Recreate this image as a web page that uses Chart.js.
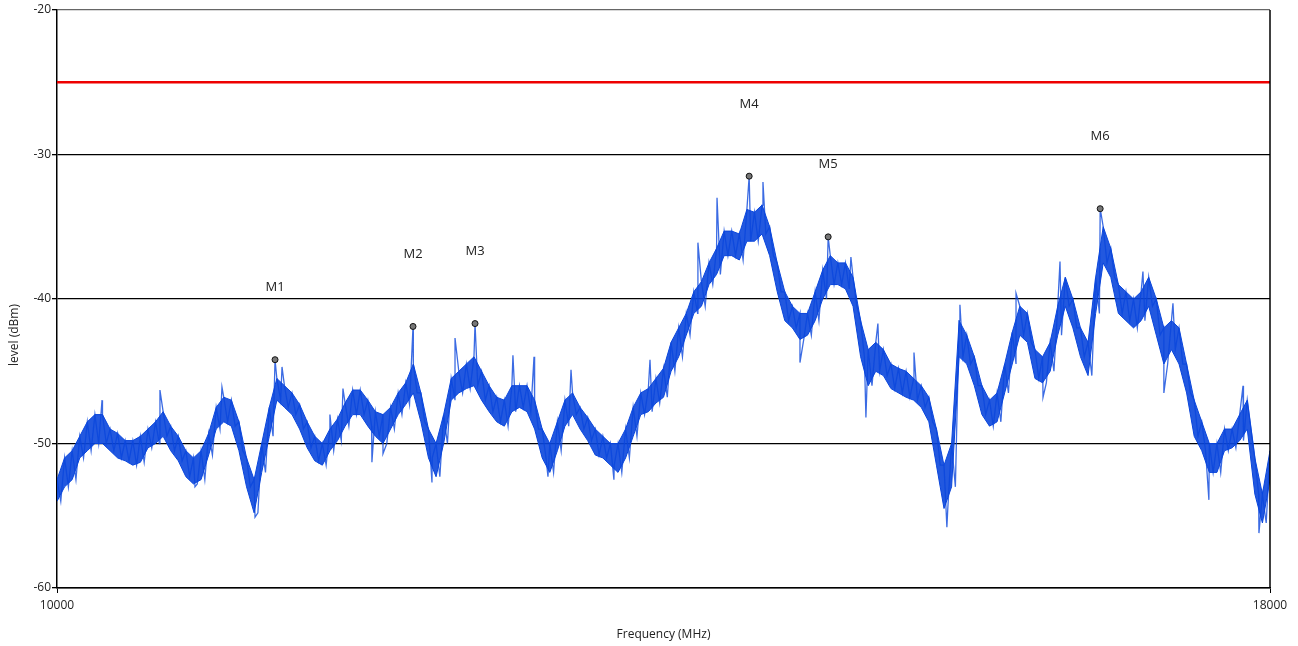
<!DOCTYPE html>
<html>
<head>
<meta charset="utf-8">
<script src="https://cdn.jsdelivr.net/npm/chart.js@4.4.1/dist/chart.umd.min.js"></script>
<style>
  html, body { margin:0; padding:0; background:#fff; }
  #wrap { width:1298px; height:646px; position:relative; }
</style>
</head>
<body>
<div id="wrap"><canvas id="c" width="1298" height="646"></canvas></div>
<script>
// sweep: 10000..18000 MHz, one reading every 50 MHz
const FREQ_START = 10000;
const FREQ_STEP  = 50;

// top and bottom of the noisy trace at each sweep point (dBm)
const traceHi = [
  -52.5,-51,-50.5,-49.5,-48.5,-48,-48,-49,-49.3,-49.8,
  -49.8,-49.5,-49,-48.5,-47.8,-48.8,-49.5,-50.5,-51,-50.5,
  -49.3,-47.5,-46.8,-47,-48.5,-51,-52.5,-50,-47.5,-45.5,
  -46,-46.5,-47.3,-48.5,-49.5,-50,-49,-48.3,-47.2,-46.3,
  -46.3,-47,-47.8,-48,-47.5,-46.5,-45.8,-44.5,-46.5,-49,
  -50,-48,-45.5,-45,-44.5,-44,-45,-46,-46.8,-47,
  -46,-46,-46,-47,-49,-50,-48.5,-47,-46.5,-47.5,
  -48.2,-49,-49.5,-50,-50,-49,-47.5,-46.5,-46.2,-45.5,
  -44.8,-43,-42,-41,-39.5,-38.8,-37.5,-36.5,-35.3,-35.3,
  -35.5,-33.8,-34,-33.5,-35,-37.5,-39.5,-40.5,-41,-41,
  -39.5,-38,-37,-37.5,-37.5,-38.5,-41.5,-43.5,-43,-43.5,
  -44.5,-44.8,-45,-45.5,-46,-46.8,-49,-51.5,-50,-41.5,
  -42.5,-44,-46,-47,-46.5,-44.5,-42.3,-40.5,-41,-43.5,
  -44,-43,-40.5,-38.5,-40,-42,-43,-38.5,-35,-36.5,
  -39,-39.5,-40,-39.5,-38.5,-40,-42,-41.5,-42,-44.5,
  -47,-48.5,-50,-50,-49,-49,-48,-47,-51,-53.5,
  -50.5
];
const traceLo = [
  -54,-53,-52.5,-51,-50.5,-50,-50,-50.5,-51,-51.2,
  -51.5,-51.3,-50.3,-50,-49.5,-50.5,-51.2,-52.3,-52.8,-52.5,
  -50.8,-49,-48.5,-48.8,-50.5,-53,-54.8,-52,-49.5,-47,
  -47.5,-48,-49,-50.3,-51.2,-51.5,-50.5,-49.8,-48.8,-48,
  -48,-48.8,-49.5,-50,-49,-48,-47.3,-46.5,-48.5,-51,
  -52.3,-50,-47,-46.5,-46.2,-46,-47,-47.8,-48.5,-48.8,
  -47.8,-47.5,-47.8,-49,-51,-52,-50.5,-48.8,-48,-49,
  -49.8,-50.8,-51,-51.5,-52,-51,-49.5,-48,-47.8,-47.2,
  -46.8,-45,-44,-42.5,-41,-40.5,-39,-38.3,-37,-37,
  -37.3,-36,-36,-35.5,-37,-39.5,-41.5,-42,-42.8,-42.5,
  -41.5,-40,-39,-39,-39.3,-40.5,-44,-46,-45,-45.3,
  -46.2,-46.5,-46.8,-47,-47.5,-48.5,-51.5,-54.5,-53,-44,
  -44.5,-46,-48,-48.8,-48.5,-46.5,-44.5,-42.5,-43,-45.5,
  -45.8,-45,-42.5,-40.5,-42,-44,-45.3,-41,-37.5,-38.5,
  -41,-41.5,-42,-41.5,-40.5,-42.5,-44.5,-43.5,-44.5,-46.5,
  -49.5,-50.5,-52,-52,-50.5,-50.3,-49.8,-49,-53.5,-55.5,
  -52.5
];

// single-sample spikes that stick out of the trace
const spikeFreq  = [10297, 10679, 10910, 11088, 11306, 11484, 11800, 11886, 12077, 12150,
                    12473, 12625, 13007, 13146, 13238, 13390, 13673, 13911, 14227, 14353,
                    14656, 14900, 15236, 15335, 15414, 15652, 15869, 15955, 16325, 16503,
                    16615, 17162, 17300, 17360, 17597, 17822, 17927];
const spikeLevel = [-47.0, -46.3, -53.0, -46.1, -55.1, -44.7, -48.0, -46.2, -51.3, -50.7,
                    -52.7, -42.7, -43.9, -44.0, -52.3, -44.9, -52.5, -44.2, -36.1, -33.0,
                    -31.9, -44.4, -37.1, -48.2, -41.7, -43.7, -55.8, -40.4, -39.6, -46.8,
                    -37.4, -38.1, -46.5, -40.3, -53.9, -46.0, -56.2];

// markers
const markerNames = ['M1','M2','M3','M4','M5','M6'];
const markerFreq  = [11438, 12348, 12757, 14565, 15086, 16880];
const markerLevel = [-44.2, -41.9, -41.7, -31.5, -35.7, -33.75];
const MARKER_LABEL_RISE = 5;   // dB above the marker

const limitLevel = -25;
const xTicks = [10000, 18000];

const FONT = '"Open Sans", "Noto Sans", sans-serif';
const BLUE = '#0a46dc';

// zig-zag between the read top/bottom so the trace looks like the noisy sweep
const trace = [];
traceHi.forEach((hi, i) => {
  const f = FREQ_START + i * FREQ_STEP;
  trace.push({ x: f, y: hi });
  trace.push({ x: f + FREQ_STEP / 2, y: traceLo[i] });
});
markerFreq.forEach((f, i) => trace.push({ x: f, y: markerLevel[i] }));
spikeFreq.forEach((f, i) => trace.push({ x: f, y: spikeLevel[i] }));
trace.sort((a, b) => a.x - b.x);

// solid core of the trace: band between top and bottom
const bandHi = traceHi.map((v, i) => ({ x: FREQ_START + i * FREQ_STEP, y: v }));
const bandLo = traceLo.map((v, i) => ({ x: FREQ_START + i * FREQ_STEP, y: v }));

const markerPts = markerFreq.map((f, i) => ({ x: f, y: markerLevel[i] }));

const frame = {
  id: 'frame',
  afterDatasetsDraw(chart) {
    const { ctx, chartArea: a, scales: { x, y } } = chart;
    ctx.save();
    ctx.strokeStyle = '#000'; ctx.lineWidth = 1.5;
    ctx.beginPath(); ctx.moveTo(a.right, a.top); ctx.lineTo(a.right, a.bottom); ctx.stroke();
    ctx.fillStyle = '#222';
    ctx.font = '13px ' + FONT;
    ctx.textAlign = 'center'; ctx.textBaseline = 'middle';
    markerNames.forEach((n, i) => {
      ctx.fillText(n, x.getPixelForValue(markerFreq[i]), y.getPixelForValue(markerLevel[i] + MARKER_LABEL_RISE));
    });
    // y axis title
    ctx.font = '12px ' + FONT;
    ctx.translate(15, 335); ctx.rotate(-Math.PI / 2);
    ctx.fillText('level (dBm)', 0, 0);
    ctx.restore();
  }
};

new Chart(document.getElementById('c'), {
  type: 'line',
  data: {
    datasets: [
      { data: markerPts, type: 'scatter', pointRadius: 3, pointBackgroundColor: '#777', pointBorderColor: '#111', pointBorderWidth: 1, showLine: false, order: 0 },
      { data: [{ x: FREQ_START, y: limitLevel }, { x: 18000, y: limitLevel }], borderColor: '#ee0000', borderWidth: 2.5, pointRadius: 0, order: 1 },
      { data: trace, borderColor: 'rgba(10,70,220,0.8)', borderWidth: 1.3, pointRadius: 0, tension: 0, order: 2 },
      { data: bandHi, borderColor: BLUE, borderWidth: 1, pointRadius: 0, fill: '+1', backgroundColor: 'rgba(10,70,220,0.9)', order: 3 },
      { data: bandLo, borderColor: BLUE, borderWidth: 1, pointRadius: 0, fill: false, order: 4 }
    ]
  },
  options: {
    responsive: false, animation: false,
    layout: { padding: { top: 10, right: 28, left: 0, bottom: 0 } },
    plugins: { legend: { display: false }, tooltip: { enabled: false } },
    scales: {
      x: {
        type: 'linear', min: 10000, max: 18000,
        afterBuildTicks: s => { s.ticks = xTicks.map(v => ({ value: v })); },
        afterFit: s => { s.height = 58; },
        grid: { drawOnChartArea: false, drawTicks: true, tickLength: 5, color: '#000' },
        border: { color: '#000', width: 1.5 },
        ticks: { color: '#222', font: { size: 12, family: FONT }, maxRotation: 0, padding: 5, callback: v => String(v) },
        title: { display: true, text: 'Frequency (MHz)', color: '#222', font: { size: 12, family: FONT }, padding: { top: 6 } }
      },
      y: {
        min: -60, max: -20,
        afterFit: s => { s.width = 57; },
        grid: { color: ctx => ctx.tick && ctx.tick.value === -20 ? '#666' : '#000', lineWidth: 1.3, tickLength: 5, tickColor: '#000' },
        border: { color: '#000', width: 1.5 },
        ticks: { stepSize: 10, color: '#222', font: { size: 12, family: FONT }, padding: 1 }
      }
    }
  },
  plugins: [frame]
});
</script>
</body>
</html>
